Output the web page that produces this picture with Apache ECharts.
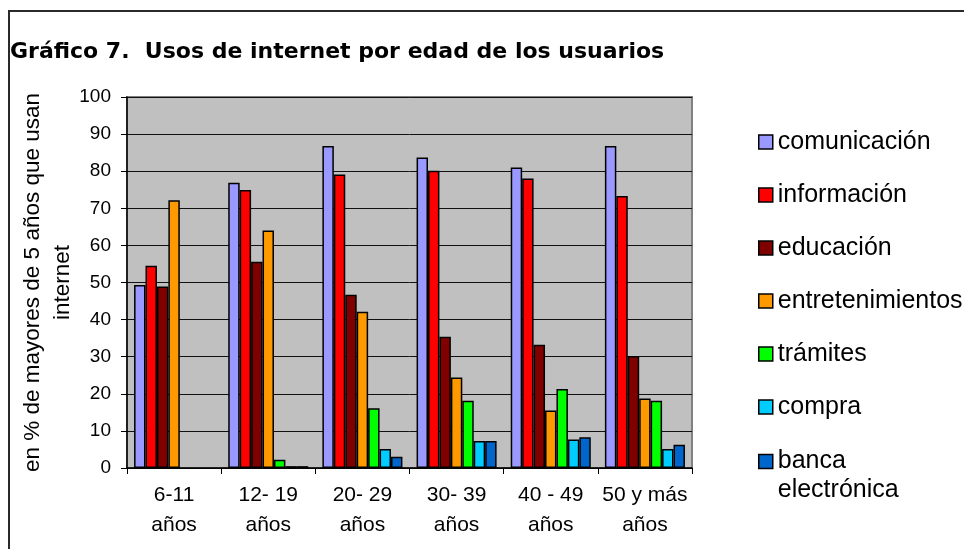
<!DOCTYPE html>
<html>
<head>
<meta charset="utf-8">
<style>
  html, body { margin: 0; padding: 0; background: #fff; }
  #chart { width: 964px; height: 549px; }
</style>
<script src="https://cdn.jsdelivr.net/npm/echarts@6/dist/echarts.min.js"></script>
</head>
<body>
<div id="chart"></div>
<script>
// grupos de edad
let ageGroups = ['6-11\naños', '12- 19\naños', '20- 29\naños', '30- 39\naños', '40 - 49\naños', '50 y más\naños']
let yTicks = { min: 0, max: 100, interval: 10 }

// % de usuarios por uso
let comunicacion = [49.3, 76.9, 86.8, 83.7, 81.0, 86.8]
let informacion = [54.5, 74.9, 79.1, 80.1, 78.0, 73.3]
let educacion = [48.9, 55.6, 46.7, 35.4, 33.2, 30.2]
let entretenimientos = [72.2, 64.0, 42.1, 24.4, 15.5, 18.7]
let tramites = [null, 2.2, 16.1, 18.1, 21.3, 18.1]
let compra = [null, 0.5, 5.1, 7.3, 7.7, 5.1]
let banca = [null, 0.5, 3.0, 7.3, 8.3, 6.3]

let seriesNames = ['comunicación', 'información', 'educación', 'entretenimientos', 'trámites', 'compra', 'banca electrónica']
let seriesColors = ['#9999ff', '#ff0000', '#800000', '#ff9900', '#00ff00', '#00ccff', '#0066cc']
let seriesData = [comunicacion, informacion, educacion, entretenimientos, tramites, compra, banca]

let myChart = echarts.init(document.getElementById('chart'), null, { renderer: 'canvas' })

let series = seriesNames.map(function(name, i) {
    return {
        name: name,
        type: 'bar',
        data: seriesData[i],
        barGap: '0%',
        barCategoryGap: '15%',
        itemStyle: {
            color: seriesColors[i],
            borderColor: '#000',
            borderWidth: 1.5
        }
    }
})

let legendText = {
    fontFamily: 'Liberation Sans, Arial, sans-serif',
    fontSize: 25,
    color: '#000'
}

let option = {
    animation: false,
    backgroundColor: '#fff',
    title: {
        text: 'Gráfico 7.  Usos de internet por edad de los usuarios',
        left: 10,
        top: 41,
        padding: 0,
        textStyle: {
            fontFamily: 'DejaVu Sans, Verdana, sans-serif',
            fontWeight: 'bold',
            fontSize: 22,
            color: '#000'
        }
    },
    graphic: [{
        type: 'rect',
        shape: { x: 9, y: 11, width: 1000, height: 600 },
        style: { fill: 'none', stroke: '#2a2a2a', lineWidth: 2 },
        z: -1
    }],
    legend: [{
        orient: 'vertical',
        left: 758,
        top: 129,
        padding: 0,
        itemWidth: 14,
        itemHeight: 14,
        itemGap: 27,
        icon: 'rect',
        data: seriesNames.slice(0, 6),
        itemStyle: { borderColor: '#000', borderWidth: 1.5 },
        textStyle: Object.assign({ lineHeight: 26 }, legendText)
    }, {
        orient: 'vertical',
        left: 758,
        top: 418,
        padding: 0,
        itemWidth: 14,
        itemHeight: 14,
        icon: 'rect',
        data: ['banca electrónica'],
        formatter: function(name) {
            // línea vacía arriba para que el icono quede junto a "banca"
            return ' \n' + name.replace(' ', '\n')
        },
        itemStyle: { borderColor: '#000', borderWidth: 1.5 },
        textStyle: Object.assign({ lineHeight: 29 }, legendText)
    }],
    grid: {
        left: 127,
        right: 272,
        top: 97,
        bottom: 81,
        show: true,
        backgroundColor: '#c0c0c0',
        borderColor: '#808080',
        borderWidth: 2
    },
    xAxis: {
        type: 'category',
        data: ageGroups,
        axisLine: { lineStyle: { color: '#000', width: 1.5 } },
        axisTick: { show: true, alignWithLabel: false, length: 6, lineStyle: { color: '#000' } },
        axisLabel: {
            interval: 0,
            margin: 12,
            fontFamily: 'Liberation Sans, Arial, sans-serif',
            fontSize: 21,
            lineHeight: 30,
            color: '#000'
        }
    },
    yAxis: {
        type: 'value',
        min: yTicks.min,
        max: yTicks.max,
        interval: yTicks.interval,
        name: 'en % de mayores de 5 años que usan\ninternet',
        nameLocation: 'middle',
        nameGap: 49,
        nameMoveOverlap: false,
        nameTextStyle: {
            fontFamily: 'Liberation Sans, Arial, sans-serif',
            fontSize: 22.5,
            lineHeight: 30,
            color: '#000',
            align: 'center'
        },
        axisLine: { show: true, lineStyle: { color: '#000', width: 1.5 } },
        axisTick: { show: true, length: 6, lineStyle: { color: '#000' } },
        axisLabel: {
            margin: 16,
            fontFamily: 'Liberation Sans, Arial, sans-serif',
            fontSize: 19,
            color: '#000'
        },
        splitLine: { show: true, lineStyle: { color: '#111', width: 1 } }
    },
    series: series
}

myChart.setOption(option)
</script>
</body>
</html>
